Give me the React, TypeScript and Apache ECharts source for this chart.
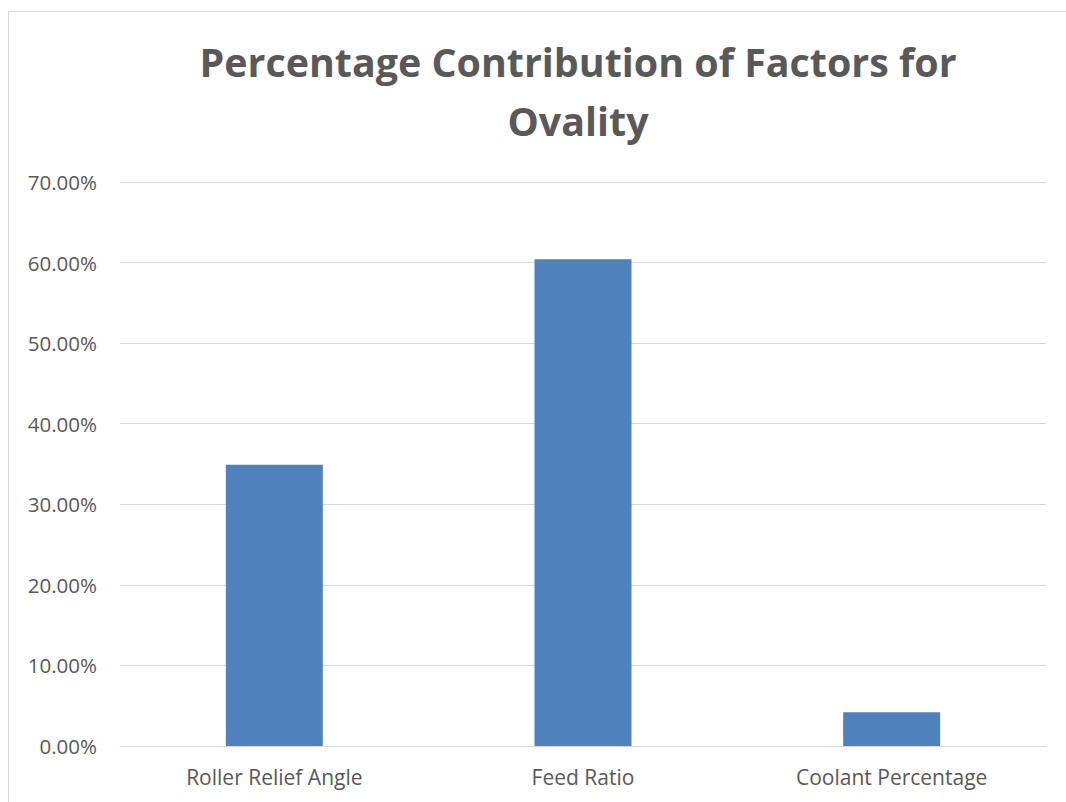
import React, { useEffect, useRef } from "react";
import * as echarts from "echarts";

const categories = ["Roller Relief Angle", "Feed Ratio", "Coolant Percentage"];
const values = [34.9, 60.4, 4.2];
const titleText = "Percentage Contribution of Factors for\nOvality";

export default function App() {
  const ref = useRef<HTMLDivElement>(null);
  useEffect(() => {
    if (!ref.current) return;
    const chart = echarts.init(ref.current, null, { renderer: "svg" });
    chart.setOption({
      animation: false,
      backgroundColor: "#ffffff",
      title: {
        text: titleText,
        left: 573,
        top: 27,
        textAlign: "center",
        textStyle: {
          fontFamily: "Open Sans",
          fontWeight: "bold",
          fontSize: 39.4,
          color: "#595959",
          lineHeight: 59,
        },
      },
      graphic: [
        {
          type: "rect",
          shape: { x: 8.5, y: 11.5, width: 1200, height: 1000 },
          style: { fill: "none", stroke: "#d9d9d9", lineWidth: 1 },
          silent: true,
        },
      ],
      grid: { left: 120, right: 20, top: 182, bottom: 56, containLabel: false },
      xAxis: {
        type: "category",
        data: categories,
        axisLine: { show: true, lineStyle: { color: "#d9d9d9", width: 1 } },
        axisTick: { show: false },
        axisLabel: {
          color: "#595959",
          fontFamily: "Open Sans",
          fontSize: 21,
          margin: 20,
        },
      },
      yAxis: {
        type: "value",
        min: 0,
        max: 70,
        interval: 10,
        axisLine: { show: false },
        axisTick: { show: false },
        splitLine: { lineStyle: { color: "#d9d9d9", width: 1 } },
        axisLabel: {
          color: "#595959",
          fontFamily: "Open Sans",
          fontSize: 20.5,
          margin: 23,
          formatter: (v: number) => v.toFixed(2) + "%",
        },
      },
      series: [
        {
          type: "bar",
          data: values,
          barWidth: 97,
          itemStyle: { color: "#4f81bd" },
        },
      ],
    });
    return () => chart.dispose();
  }, []);
  return (
    <div
      ref={ref}
      style={{ position: "absolute", left: 0, top: 0, width: 1066, height: 802 }}
    />
  );
}
